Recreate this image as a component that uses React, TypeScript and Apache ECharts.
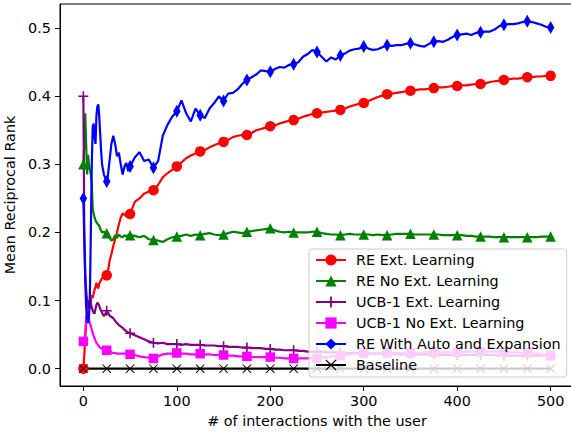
import React, { useEffect, useRef } from "react";
import * as echarts from "echarts";

const xs = [
  0, 1, 2, 3, 4, 5, 6, 7, 8, 9,
  10, 11, 12, 13, 14, 15, 16, 17, 18, 19,
  20, 22, 24, 25, 26, 28, 30, 32, 34, 36,
  38, 40, 42, 44, 46, 48, 50, 55, 60, 65,
  70, 75, 80, 85, 90, 95, 100, 105, 110, 115,
  120, 125, 130, 135, 140, 145, 150, 155, 160, 165,
  170, 175, 180, 185, 190, 195, 200, 205, 210, 215,
  220, 225, 230, 235, 240, 245, 250, 255, 260, 265,
  270, 275, 280, 285, 290, 295, 300, 305, 310, 315,
  320, 325, 330, 335, 340, 345, 350, 355, 360, 365,
  370, 375, 380, 385, 390, 395, 400, 405, 410, 415,
  420, 425, 430, 435, 440, 445, 450, 455, 460, 465,
  470, 475, 480, 485, 490, 495, 500,
];

const reExt = [
  0, 0.02, 0.045, 0.068, 0.085, 0.1, 0.092, 0.088, 0.098, 0.108,
  0.104, 0.11, 0.116, 0.12, 0.126, 0.12, 0.118, 0.125, 0.128, 0.13,
  0.133, 0.134, 0.136, 0.137, 0.14, 0.158, 0.168, 0.18, 0.19, 0.2,
  0.212, 0.222, 0.228, 0.226, 0.224, 0.226, 0.227, 0.245, 0.25, 0.257,
  0.26, 0.262, 0.27, 0.281, 0.287, 0.292, 0.297, 0.303, 0.309, 0.313,
  0.316, 0.319, 0.321, 0.325, 0.328, 0.331, 0.333, 0.336, 0.34, 0.342,
  0.343, 0.343, 0.346, 0.35, 0.352, 0.354, 0.356, 0.357, 0.36, 0.362,
  0.364, 0.365, 0.367, 0.37, 0.372, 0.374, 0.375, 0.376, 0.377, 0.378,
  0.379, 0.38, 0.382, 0.385, 0.387, 0.389, 0.39, 0.393, 0.396, 0.399,
  0.401, 0.403, 0.404, 0.405, 0.406, 0.407, 0.408, 0.409, 0.41, 0.41,
  0.411, 0.412, 0.413, 0.413, 0.414, 0.415, 0.415, 0.416, 0.416, 0.417,
  0.418, 0.418, 0.419, 0.421, 0.422, 0.423, 0.424, 0.425, 0.426, 0.426,
  0.427, 0.428, 0.428, 0.429, 0.429, 0.43, 0.43,
];

const reNoExt = [
  0.3, 0.33, 0.375, 0.33, 0.285, 0.314, 0.3, 0.292, 0.285, 0.272,
  0.235, 0.228, 0.222, 0.218, 0.215, 0.213, 0.211, 0.21, 0.205, 0.203,
  0.2, 0.201, 0.199, 0.199, 0.197, 0.192, 0.188, 0.19, 0.196, 0.192,
  0.197, 0.194, 0.193, 0.196, 0.194, 0.196, 0.196, 0.195, 0.193, 0.195,
  0.19, 0.189, 0.188, 0.186, 0.19, 0.193, 0.194, 0.195, 0.197, 0.195,
  0.197, 0.196, 0.198, 0.199, 0.197, 0.196, 0.197, 0.199, 0.201, 0.2,
  0.199, 0.201, 0.202, 0.203, 0.204, 0.205, 0.206, 0.203, 0.201, 0.2,
  0.201, 0.2, 0.2, 0.2, 0.2, 0.201, 0.201, 0.199, 0.198, 0.197,
  0.197, 0.196, 0.197, 0.198, 0.197, 0.197, 0.197, 0.197, 0.196, 0.197,
  0.196, 0.196, 0.197, 0.198, 0.198, 0.198, 0.198, 0.197, 0.197, 0.197,
  0.197, 0.197, 0.197, 0.196, 0.196, 0.196, 0.196, 0.196, 0.195, 0.195,
  0.194, 0.194, 0.194, 0.194, 0.193, 0.193, 0.193, 0.193, 0.193, 0.193,
  0.193, 0.193, 0.193, 0.193, 0.194, 0.194, 0.194,
];

const ucbExt = [
  0.4, 0.2, 0.14, 0.115, 0.1, 0.09, 0.095, 0.1, 0.096, 0.09,
  0.085, 0.082, 0.081, 0.088, 0.094, 0.097, 0.095, 0.092, 0.088, 0.085,
  0.082, 0.077, 0.082, 0.085, 0.083, 0.078, 0.076, 0.074, 0.07, 0.067,
  0.064, 0.062, 0.06, 0.057, 0.055, 0.053, 0.052, 0.049, 0.046, 0.043,
  0.04, 0.038, 0.037, 0.038, 0.036, 0.036, 0.036, 0.035, 0.036, 0.035,
  0.035, 0.035, 0.034, 0.034, 0.034, 0.033, 0.033, 0.032, 0.032, 0.032,
  0.031, 0.031, 0.03, 0.03, 0.03, 0.029, 0.029, 0.028, 0.028, 0.027,
  0.027, 0.027, 0.026, 0.026, 0.025, 0.025, 0.025, 0.025, 0.024, 0.024,
  0.024, 0.024, 0.023, 0.023, 0.023, 0.023, 0.023, 0.022, 0.022, 0.022,
  0.022, 0.022, 0.022, 0.021, 0.021, 0.021, 0.021, 0.021, 0.021, 0.021,
  0.021, 0.021, 0.02, 0.02, 0.02, 0.02, 0.02, 0.02, 0.02, 0.02,
  0.02, 0.02, 0.02, 0.02, 0.02, 0.019, 0.019, 0.019, 0.019, 0.019,
  0.019, 0.019, 0.019, 0.019, 0.019, 0.019, 0.019,
];

const ucbNoExt = [
  0.04, 0.04, 0.05, 0.076, 0.076, 0.075, 0.072, 0.067, 0.062, 0.057,
  0.052, 0.048, 0.045, 0.041, 0.038, 0.036, 0.034, 0.032, 0.031, 0.03,
  0.029, 0.028, 0.027, 0.027, 0.026, 0.025, 0.024, 0.023, 0.023, 0.022,
  0.022, 0.022, 0.022, 0.022, 0.022, 0.021, 0.021, 0.02, 0.018, 0.017,
  0.016, 0.015, 0.018, 0.021, 0.022, 0.022, 0.023, 0.022, 0.022, 0.021,
  0.021, 0.022, 0.021, 0.021, 0.02, 0.02, 0.02, 0.019, 0.019, 0.018,
  0.018, 0.018, 0.017, 0.017, 0.017, 0.017, 0.017, 0.016, 0.016, 0.015,
  0.015, 0.015, 0.015, 0.015, 0.015, 0.015, 0.015, 0.016, 0.017, 0.018,
  0.018, 0.019, 0.02, 0.021, 0.022, 0.022, 0.023, 0.023, 0.023, 0.023,
  0.023, 0.023, 0.023, 0.023, 0.023, 0.023, 0.023, 0.023, 0.023, 0.024,
  0.024, 0.024, 0.024, 0.024, 0.024, 0.024, 0.024, 0.024, 0.025, 0.025,
  0.025, 0.025, 0.025, 0.025, 0.025, 0.024, 0.024, 0.024, 0.024, 0.024,
  0.023, 0.023, 0.022, 0.022, 0.021, 0.02, 0.019,
];

const reAuto = [
  0.25, 0.19, 0.13, 0.09, 0.072, 0.067, 0.075, 0.11, 0.2, 0.3,
  0.355, 0.36, 0.34, 0.33, 0.372, 0.385, 0.388, 0.37, 0.345, 0.32,
  0.3, 0.285, 0.278, 0.275, 0.28, 0.305, 0.33, 0.342, 0.33, 0.312,
  0.317, 0.3, 0.285, 0.297, 0.302, 0.29, 0.297, 0.31, 0.318, 0.305,
  0.307, 0.295, 0.305, 0.342, 0.358, 0.37, 0.378, 0.394, 0.375, 0.363,
  0.382, 0.372, 0.368, 0.382, 0.39, 0.4, 0.393, 0.404, 0.405, 0.41,
  0.418, 0.424, 0.428, 0.432, 0.438, 0.437, 0.436, 0.44, 0.443, 0.442,
  0.446, 0.447, 0.45, 0.458, 0.462, 0.468, 0.465, 0.458, 0.451, 0.457,
  0.454, 0.46, 0.463, 0.467, 0.469, 0.47, 0.473, 0.47, 0.468, 0.469,
  0.472, 0.475, 0.474, 0.475, 0.475, 0.477, 0.478, 0.476, 0.474, 0.473,
  0.477, 0.48, 0.481, 0.48, 0.483, 0.487, 0.49, 0.491, 0.492, 0.49,
  0.493, 0.494, 0.495, 0.495, 0.498, 0.503, 0.505, 0.506, 0.506, 0.507,
  0.509, 0.51, 0.509, 0.507, 0.505, 0.502, 0.501,
];

const baselineXs = [0, 25, 50, 75, 100, 125, 150, 175, 200, 225, 250, 275, 300, 325, 350, 375, 400, 425, 450, 475, 500];
const baseline = [0, 0, 0, 0, 0, 0, 0, 0, 0, 0, 0, 0, 0, 0, 0, 0, 0, 0, 0, 0, 0];

const xTicks = [0, 100, 200, 300, 400, 500];
const yTicks = [0, 0.1, 0.2, 0.3, 0.4, 0.5];

const seriesNames = [
  "RE Ext. Learning",
  "RE No Ext. Learning",
  "UCB-1 Ext. Learning",
  "UCB-1 No Ext. Learning",
  "RE With Auto and Expansion",
  "Baseline",
];

const PLUS = "path://M42,0H58V42H100V58H58V100H42V58H0V42H42Z";
const CROSS = "path://M0,8L8,0L50,42L92,0L100,8L58,50L100,92L92,100L50,58L8,100L0,92L42,50Z";

export default function App() {
  const ref = useRef<HTMLDivElement>(null);
  useEffect(() => {
    document.body.style.margin = "0";
    const chart = echarts.init(ref.current as HTMLDivElement, null, { renderer: "svg" });
    const font = "DejaVu Sans";
    const fs = 14.4;
    const zip = (xa: number[], ya: number[]) => xa.map((x, i) => [x, ya[i]]);
    const mk = (size: any) => (v: number[]) => (v[0] % 25 === 0 ? size : 0);
    const mkLine = (name: string, color: string, data: number[][], symbol: string, size: any) => ({
      name,
      type: "line",
      data,
      symbol,
      symbolSize: mk(size),
      showSymbol: true,
      showAllSymbol: true,
      lineStyle: { color, width: 2.2 },
      itemStyle: { color },
      emphasis: { disabled: true },
      silent: true,
    });

    const axisCommon = {
      axisLine: { show: true, onZero: false, lineStyle: { color: "#000", width: 1 } },
      splitLine: { show: false },
      nameTextStyle: { fontSize: fs, color: "#000", fontFamily: font },
    };

    chart.setOption({
      animation: false,
      textStyle: { fontFamily: font },
      grid: {
        left: 60,
        right: -3,
        top: 4,
        bottom: 49,
        show: true,
        borderColor: "#000",
        borderWidth: 1,
        containLabel: false,
        outerBoundsMode: "none",
      },
      xAxis: {
        type: "value",
        min: -25,
        max: 525,
        ...axisCommon,
        axisTick: { show: true, length: 5, inside: false, lineStyle: { color: "#000" }, customValues: xTicks },
        axisLabel: { customValues: xTicks, margin: 8, fontSize: fs, color: "#000", fontFamily: font },
        name: "# of interactions with the user",
        nameLocation: "middle",
        nameGap: 28,
      },
      yAxis: {
        type: "value",
        min: -0.0255,
        max: 0.5355,
        ...axisCommon,
        axisTick: { show: true, length: 5, inside: false, lineStyle: { color: "#000" }, customValues: yTicks },
        axisLabel: {
          customValues: yTicks,
          margin: 9,
          fontSize: fs,
          color: "#000",
          fontFamily: font,
          formatter: (v: number) => v.toFixed(1),
        },
        name: "Mean Reciprocal Rank",
        nameLocation: "middle",
        nameGap: 40,
      },
      legend: {
        orient: "vertical",
        left: 309,
        top: 249,
        itemWidth: 30,
        itemHeight: 14,
        itemGap: 7,
        padding: [4, 6, 5, 6],
        backgroundColor: "rgba(255,255,255,0.8)",
        borderColor: "#cccccc",
        borderWidth: 1,
        borderRadius: 3,
        selectedMode: false,
        textStyle: { fontSize: fs, color: "#000", fontFamily: font, padding: [0, 0, 0, 5] },
        data: seriesNames,
      },
      series: [
        mkLine(seriesNames[0], "#ff0000", zip(xs, reExt), "circle", 10.5),
        mkLine(seriesNames[1], "#008000", zip(xs, reNoExt), "triangle", 10.5),
        mkLine(seriesNames[2], "#800080", zip(xs, ucbExt), PLUS, 10),
        mkLine(seriesNames[3], "#ff00ff", zip(xs, ucbNoExt), "rect", 9.5),
        mkLine(seriesNames[4], "#0000ff", zip(xs, reAuto), "diamond", [7.5, 13]),
        mkLine(seriesNames[5], "#000000", zip(baselineXs, baseline), CROSS, 9),
      ],
    });
    return () => chart.dispose();
  }, []);
  return <div ref={ref} style={{ position: "absolute", left: 0, top: 0, width: 571, height: 435 }} />;
}
